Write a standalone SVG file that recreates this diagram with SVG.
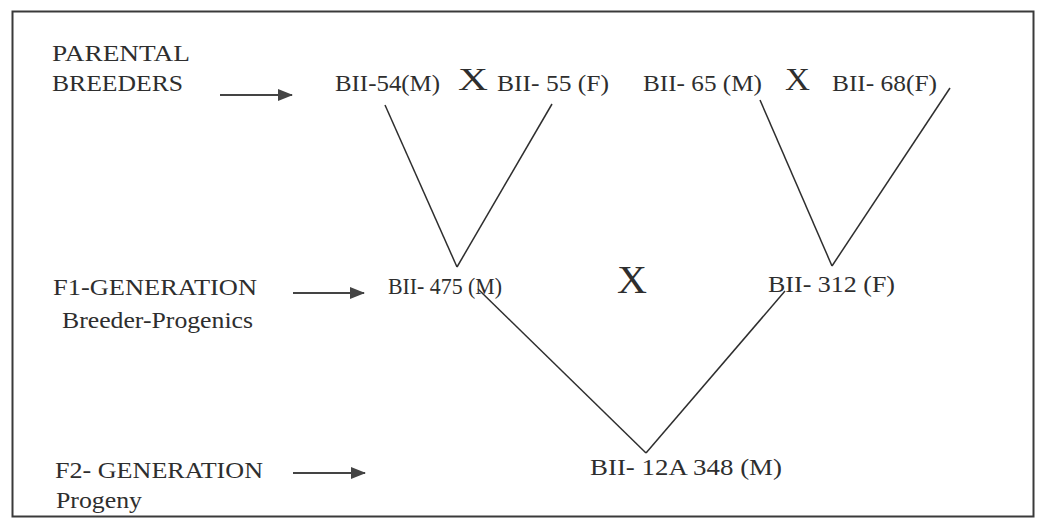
<svg xmlns="http://www.w3.org/2000/svg" width="1043" height="522" viewBox="0 0 1043 522">
  <style>
    text { font-family: 'Liberation Serif', 'DejaVu Serif', 'Times New Roman', Times, serif; fill: #2e2e2e; }
    .lbl { font-size: 24px; }
    .node { font-size: 23px; }
    .edge { stroke: #2e2e2e; stroke-width: 1.5; fill: none; }
    .arrow { stroke: #444; stroke-width: 2; fill: none; marker-end: url(#ah); }
  </style>
  <defs>
    <marker id="ah" markerUnits="userSpaceOnUse" markerWidth="16" markerHeight="12" refX="14" refY="6" orient="auto">
      <path d="M0,0 L15,6 L0,12 Z" fill="#444"/>
    </marker>
  </defs>
  <rect x="0" y="0" width="1043" height="522" fill="#ffffff"/>
  <rect id="frame" x="12.5" y="11.5" width="1021" height="505" fill="none" stroke="#3a3a3a" stroke-width="2"/>

  <g id="row-labels" font-family="Liberation Serif, serif">
    <text class="lbl" x="52" y="61" textLength="138" lengthAdjust="spacingAndGlyphs">PARENTAL</text>
    <text class="lbl" x="52" y="91" textLength="131" lengthAdjust="spacingAndGlyphs">BREEDERS</text>
    <text class="lbl" x="53" y="295" textLength="204" lengthAdjust="spacingAndGlyphs">F1-GENERATION</text>
    <text class="lbl" x="62" y="328" textLength="191" lengthAdjust="spacingAndGlyphs">Breeder-Progenics</text>
    <text class="lbl" x="55" y="478" textLength="208" lengthAdjust="spacingAndGlyphs">F2- GENERATION</text>
    <text class="lbl" x="56" y="508" textLength="86" lengthAdjust="spacingAndGlyphs">Progeny</text>
  </g>

  <g id="connectors">
    <line class="arrow" x1="220" y1="95" x2="292" y2="95"/>
    <line class="arrow" x1="293" y1="293" x2="364" y2="293"/>
    <line class="arrow" x1="293" y1="473" x2="365" y2="473"/>
    <line class="edge" x1="385" y1="105" x2="457" y2="267"/>
    <line class="edge" x1="552" y1="104" x2="457" y2="267"/>
    <line class="edge" x1="760" y1="100" x2="832" y2="266"/>
    <line class="edge" x1="950" y1="88" x2="832" y2="266"/>
    <line class="edge" x1="478" y1="289" x2="646" y2="453"/>
    <line class="edge" x1="785" y1="291" x2="646" y2="453"/>
  </g>

  <g id="bii-54">
    <text class="node" x="335" y="91" textLength="105" lengthAdjust="spacingAndGlyphs">BII-54(M)</text>
  </g>
  <g id="cross-1">
    <text x="458" y="90" font-size="32" textLength="30" lengthAdjust="spacingAndGlyphs">X</text>
  </g>
  <g id="bii-55">
    <text class="node" x="497" y="91" textLength="112" lengthAdjust="spacingAndGlyphs">BII- 55 (F)</text>
  </g>
  <g id="bii-65">
    <text class="node" x="643" y="91" textLength="119" lengthAdjust="spacingAndGlyphs">BII- 65 (M)</text>
  </g>
  <g id="cross-2">
    <text x="785" y="90" font-size="31" textLength="25" lengthAdjust="spacingAndGlyphs">X</text>
  </g>
  <g id="bii-68">
    <text class="node" x="832" y="91" textLength="105" lengthAdjust="spacingAndGlyphs">BII- 68(F)</text>
  </g>
  <g id="bii-475">
    <text class="node" x="388" y="294" textLength="114" lengthAdjust="spacingAndGlyphs">BII- 475 (M)</text>
  </g>
  <g id="cross-3">
    <text x="617" y="293" font-size="40" textLength="30" lengthAdjust="spacingAndGlyphs">X</text>
  </g>
  <g id="bii-312">
    <text class="node" x="768" y="292" textLength="127" lengthAdjust="spacingAndGlyphs">BII- 312 (F)</text>
  </g>
  <g id="bii-12a-348">
    <text class="node" x="590" y="475" textLength="192" lengthAdjust="spacingAndGlyphs">BII- 12A 348 (M)</text>
  </g>
</svg>
